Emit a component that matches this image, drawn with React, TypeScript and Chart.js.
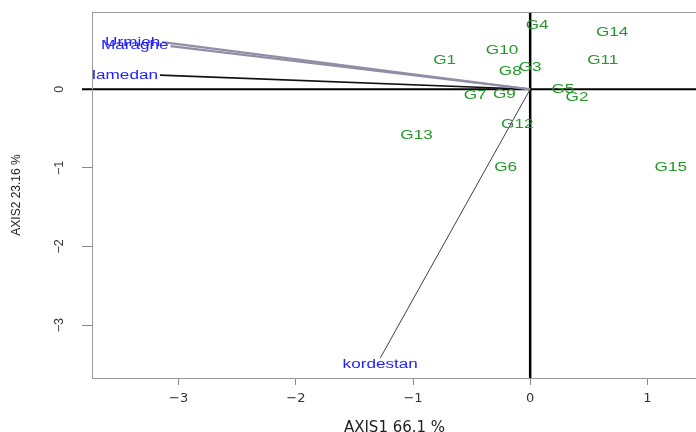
import React, { useEffect, useRef } from "react";
import { Chart, registerables } from "chart.js";

Chart.register(...registerables);

// Genotype scores (AXIS1, AXIS2)
const genotypes = ["G1", "G2", "G3", "G4", "G5", "G6", "G7", "G8", "G9", "G10", "G11", "G12", "G13", "G14", "G15"];
const genoX = [-0.73, 0.4, 0.0, 0.06, 0.28, -0.21, -0.47, -0.17, -0.22, -0.24, 0.62, -0.11, -0.97, 0.7, 1.2];
const genoY = [0.37, -0.11, 0.28, 0.81, 0.0, -0.99, -0.085, 0.22, -0.07, 0.49, 0.37, -0.45, -0.59, 0.72, -1.0];

// Environment vectors
const envNames = ["Urmieh", "Maraghe", "Hamedan", "kordestan"];
const envX = [-3.14, -3.07, -3.16, -1.28];
const envY = [0.6, 0.55, 0.18, -3.42];
const envLabelSide = ["left", "left", "left", "below"];

const xTicks = [-3, -2, -1, 0, 1];
const yTicks = [-3, -2, -1, 0];
const xTitle = "AXIS1 66.1 %";
const yTitle = "AXIS2 23.16 %";

const envLineColors = ["#8e8ea6", "#8e8ea6", "#111111", "#3c3c5c"];
const envLineWidths = [2.2, 2.2, 1.6, 1];

const fmt = (v: number) => (v < 0 ? "\u2212" + Math.abs(v) : String(v));

const biplotPlugin = {
  id: "biplot",
  beforeDatasetsDraw(chart: any) {
    const { ctx, chartArea: a, scales } = chart;
    const x0 = scales.x.getPixelForValue(0);
    const y0 = scales.y.getPixelForValue(0);
    ctx.save();
    ctx.strokeStyle = "#000";
    ctx.lineWidth = 2;
    ctx.beginPath();
    ctx.moveTo(a.left - 10, y0);
    ctx.lineTo(a.right, y0);
    ctx.stroke();
    ctx.lineWidth = 2.5;
    ctx.beginPath();
    ctx.moveTo(x0, a.top + 1);
    ctx.lineTo(x0, a.bottom);
    ctx.stroke();
    ctx.restore();
  },
  afterDatasetsDraw(chart: any) {
    const { ctx, chartArea: a, scales } = chart;
    const sx = 1.37;
    ctx.save();
    ctx.beginPath();
    ctx.rect(a.left, a.top, a.right - a.left, a.bottom - a.top);
    ctx.clip();
    ctx.font = '12.5px "Liberation Sans", Arial, sans-serif';
    ctx.textBaseline = "middle";
    // genotype labels
    ctx.fillStyle = "#23992a";
    genotypes.forEach((g, i) => {
      const px = scales.x.getPixelForValue(genoX[i]);
      const py = scales.y.getPixelForValue(genoY[i]);
      ctx.save();
      ctx.translate(px, py);
      ctx.scale(sx, 1);
      ctx.textAlign = "center";
      ctx.fillText(g, 0, 0);
      ctx.restore();
    });
    // environment labels
    ctx.fillStyle = "#2222ff";
    envNames.forEach((n, i) => {
      const px = scales.x.getPixelForValue(envX[i]);
      const py = scales.y.getPixelForValue(envY[i]);
      ctx.save();
      if (envLabelSide[i] === "left") {
        ctx.translate(px - 2, py);
        ctx.scale(sx, 1);
        ctx.textAlign = "right";
      } else {
        ctx.translate(px, py + 6);
        ctx.scale(sx, 1);
        ctx.textAlign = "center";
      }
      ctx.fillText(n, 0, 0);
      ctx.restore();
    });
    ctx.restore();
    // box
    ctx.save();
    ctx.strokeStyle = "#999";
    ctx.lineWidth = 1;
    ctx.strokeRect(a.left + 0.5, a.top + 0.5, a.right - a.left, a.bottom - a.top);
    ctx.restore();
  },
};

export default function App() {
  const ref = useRef<HTMLCanvasElement | null>(null);
  useEffect(() => {
    if (!ref.current) return;
    const datasets: any[] = envNames.map((n, i) => ({
      label: n,
      data: [
        { x: 0, y: 0 },
        { x: envX[i], y: envY[i] },
      ],
      showLine: true,
      borderColor: envLineColors[i],
      borderWidth: envLineWidths[i],
      pointRadius: 0,
      fill: false,
    }));
    datasets.push({
      label: "genotypes",
      data: genoX.map((x, i) => ({ x, y: genoY[i] })),
      showLine: false,
      pointRadius: 0,
    });
    const chart = new Chart(ref.current, {
      type: "scatter",
      data: { datasets },
      plugins: [biplotPlugin],
      options: {
        responsive: false,
        animation: false,
        layout: { padding: { left: 0, top: 12, right: 1, bottom: 0 } },
        plugins: { legend: { display: false }, tooltip: { enabled: false } },
        scales: {
          x: {
            type: "linear",
            min: -3.74,
            max: 1.424,
            afterBuildTicks: (s: any) => {
              s.ticks = xTicks.map((v) => ({ value: v }));
            },
            afterFit: (s: any) => {
              s.height = 54;
              s.paddingLeft = 0;
              s.paddingRight = 0;
            },
            grid: { display: true, drawOnChartArea: false, drawTicks: true, tickLength: 7, color: "#888" },
            border: { display: false },
            ticks: {
              font: { family: "DejaVu Sans", size: 13 },
              color: "#333",
              padding: 6,
              maxRotation: 0,
              minRotation: 0,
              callback: (v: any) => fmt(Number(v)),
            },
            title: {
              display: true,
              text: xTitle,
              color: "#222",
              font: { family: "DejaVu Sans", size: 15, lineHeight: 1 },
              padding: { top: 0, bottom: -4 },
            },
          },
          y: {
            type: "linear",
            min: -3.673,
            max: 0.983,
            afterBuildTicks: (s: any) => {
              s.ticks = yTicks.map((v) => ({ value: v }));
            },
            afterFit: (s: any) => {
              s.width = 92;
              s.paddingTop = 0;
              s.paddingBottom = 0;
            },
            grid: { display: true, drawOnChartArea: false, drawTicks: true, tickLength: 10, color: "#888" },
            border: { display: false },
            ticks: {
              font: { family: "Liberation Sans", size: 12.5 },
              color: "#333",
              padding: 15,
              minRotation: 90,
              maxRotation: 90,
              crossAlign: "center",
              callback: (v: any) => fmt(Number(v)),
            },
            title: {
              display: true,
              text: yTitle,
              color: "#222",
              font: { family: "Liberation Sans", size: 12 },
              padding: { top: 9.8, bottom: 0 },
            },
          },
        },
      } as any,
    });
    return () => chart.destroy();
  }, []);
  return (
    <div style={{ position: "fixed", left: 0, top: 0, width: 696, height: 432, overflow: "hidden", background: "#fff" }}>
      <canvas ref={ref} width={698} height={432} style={{ width: 698, height: 432, display: "block" }} />
    </div>
  );
}
